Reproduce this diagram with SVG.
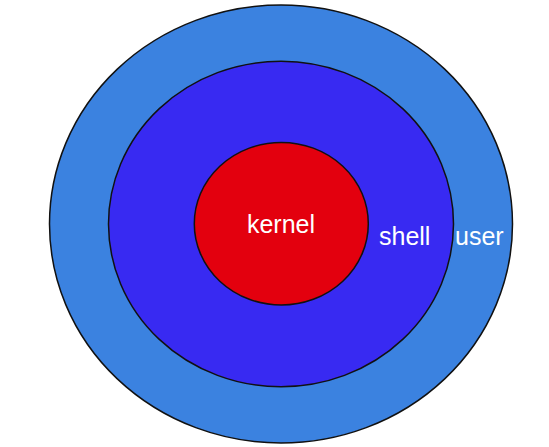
<svg xmlns="http://www.w3.org/2000/svg" width="549" height="447" viewBox="0 0 549 447">
<style>
.ring{stroke:#111;stroke-width:1.5}
.lbl{font-family:"Liberation Sans",Arial,sans-serif;font-size:25px;fill:#fff}
</style>
<rect width="549" height="447" fill="#fff"/>
<g id="user">
<ellipse class="ring" cx="281" cy="224" rx="231.5" ry="219" fill="#3B82E0"/>
<text class="lbl" x="455" y="245">user</text>
</g>
<g id="shell">
<ellipse class="ring" cx="281" cy="224" rx="172.5" ry="162.8" fill="#382AF2"/>
<text class="lbl" x="379" y="245">shell</text>
</g>
<g id="kernel">
<ellipse class="ring" cx="281.3" cy="223.7" rx="87" ry="81.3" fill="#E3000E"/>
<text class="lbl" x="281" y="233" text-anchor="middle">kernel</text>
</g>
<g id="connectors"/>
</svg>
